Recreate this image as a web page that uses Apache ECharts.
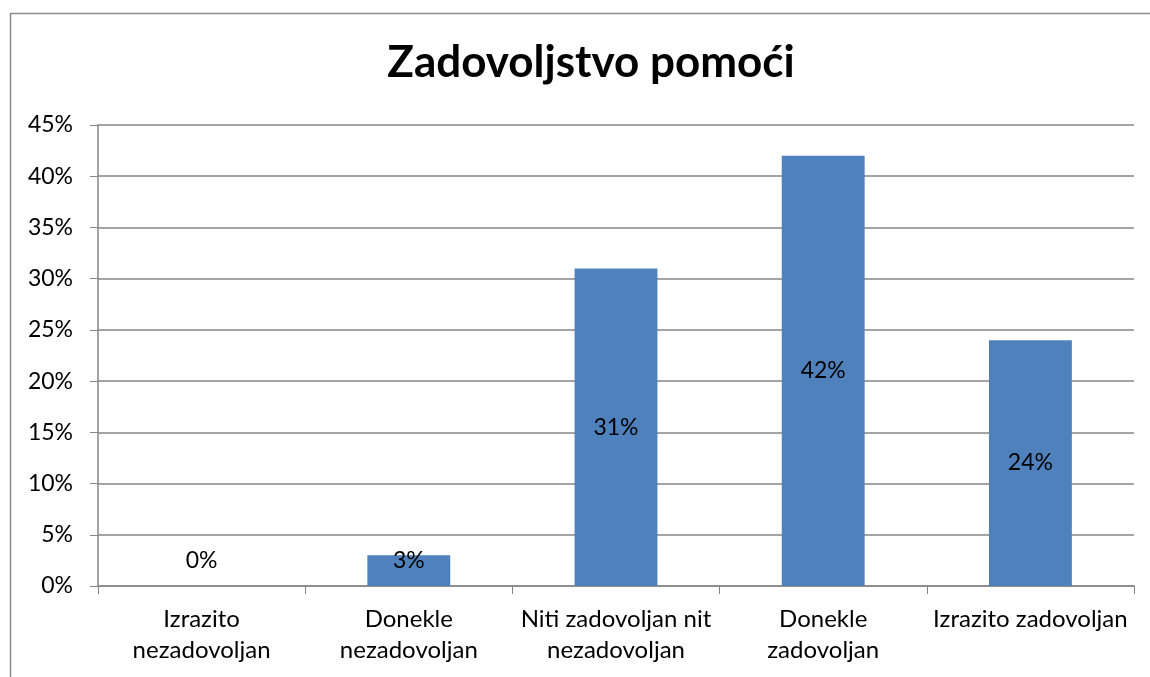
<!DOCTYPE html>
<html>
<head>
<meta charset="utf-8">
<script src="https://cdn.jsdelivr.net/npm/echarts@6/dist/echarts.min.js"></script>
<style>
html, body { margin: 0; padding: 0; background: #fff; }
#chart { width: 1150px; height: 677px; }
</style>
</head>
<body>
<div id="chart"></div>
<script>
var titleText = "Zadovoljstvo pomoći";
var categories = [
    "Izrazito\nnezadovoljan",
    "Donekle\nnezadovoljan",
    "Niti zadovoljan nit\nnezadovoljan",
    "Donekle\nzadovoljan",
    "Izrazito zadovoljan"
];
var values = [0, 3, 31, 42, 24];
var yMax = 45;
var yStep = 5;

var font = "Lato";
var gridColor = "#868686";

var myChart = echarts.init(document.getElementById("chart"));

// small bars get their label lifted above the baseline like in Excel
var barData = values.map(function (v) {
    var item = { value: v };
    if (v < 5) {
        item.label = { position: "insideBottom", distance: 14 };
    }
    return item;
});

var option = {
    animation: false,
    backgroundColor: "#fff",
    title: {
        text: titleText,
        left: 586,
        top: 36,
        textAlign: "center",
        textStyle: { fontFamily: font, fontSize: 44, fontWeight: "bold", color: "#000" }
    },
    graphic: [{
        type: "rect",
        shape: { x: 10.5, y: 13.5, width: 1300, height: 800 },
        style: { fill: "none", stroke: "#8c8c8c", lineWidth: 1.5 },
        silent: true
    }],
    grid: { left: 98, right: 16, top: 125, bottom: 91 },
    xAxis: {
        type: "category",
        data: categories,
        axisLine: { lineStyle: { color: gridColor, width: 1.5 } },
        axisTick: { show: true, length: 8, lineStyle: { color: gridColor } },
        axisLabel: {
            color: "#000", fontFamily: font, fontSize: 24, margin: 18,
            lineHeight: 31, interval: 0
        }
    },
    yAxis: {
        type: "value",
        min: 0,
        max: yMax,
        interval: yStep,
        axisLine: { show: true, lineStyle: { color: gridColor, width: 1.5 } },
        axisTick: { show: true, length: 8, lineStyle: { color: gridColor } },
        splitLine: { lineStyle: { color: gridColor, width: 1.5 } },
        axisLabel: {
            color: "#000", fontFamily: font, fontSize: 23, margin: 25,
            formatter: function (v) { return v + "%"; }
        }
    },
    series: [{
        type: "bar",
        data: barData,
        barCategoryGap: "60%",
        itemStyle: { color: "#4F81BD" },
        label: {
            show: true,
            position: "inside",
            color: "#000",
            fontFamily: font,
            fontSize: 23,
            formatter: function (p) { return p.value + "%"; }
        }
    }]
};
option && myChart.setOption(option);
</script>
</body>
</html>
